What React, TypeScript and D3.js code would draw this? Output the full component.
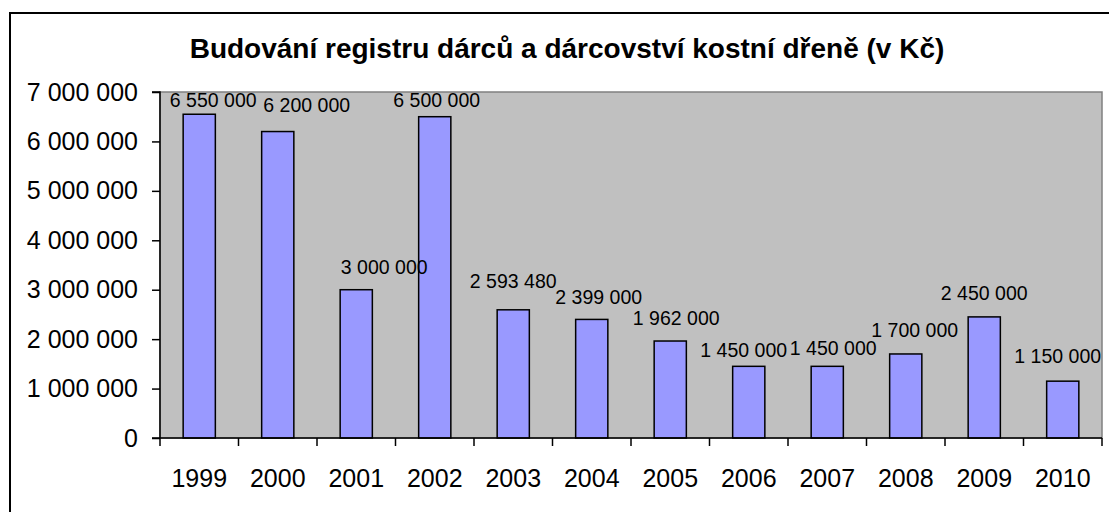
import React, { useEffect, useRef } from 'react';
import * as d3 from 'd3';

// chart data
const years = ['1999', '2000', '2001', '2002', '2003', '2004', '2005', '2006', '2007', '2008', '2009', '2010'];
const amounts = [6550000, 6200000, 3000000, 6500000, 2593480, 2399000, 1962000, 1450000, 1450000, 1700000, 2450000, 1150000];
const yTicks = [0, 1000000, 2000000, 3000000, 4000000, 5000000, 6000000, 7000000];
const title = 'Budování registru dárců a dárcovství kostní dřeně (v Kč)';

// small hand moves of the value labels, like they were dragged in the original
const labelNudge: [number, number][] = [
    [14, 0], [29, -2], [28, 1], [2, 0], [0, -5], [7, 2],
    [6, 1], [-5, 8], [6, 6], [9, 0], [0, 0], [-5, -1],
];

const fmt = (v: number) => d3.format(',')(v).replace(/,/g, ' ');

function App() {
    const ref = useRef<SVGSVGElement>(null);

    useEffect(() => {
        const width = 1109;
        const height = 512;
        const font = '"Liberation Sans", Arial, sans-serif';
        const plot = { left: 160, right: 1102, top: 92, bottom: 438 };

        const svg = d3.select(ref.current);
        svg.selectAll('*').remove();

        svg.append('rect')
            .attr('width', width)
            .attr('height', height)
            .attr('fill', '#fff');

        // outer chart border (only top and left visible, rest is cut off)
        svg.append('path')
            .attr('d', `M10,${height + 2} L10,13 L${width + 2},13`)
            .attr('fill', 'none')
            .attr('stroke', '#000')
            .attr('stroke-width', 2);

        const x = d3.scaleBand()
            .domain(years)
            .range([plot.left, plot.right])
            .paddingInner(0.59)
            .paddingOuter(0.295);

        const y = d3.scaleLinear()
            .domain([0, 7000000])
            .range([plot.bottom, plot.top]);

        // plot area
        svg.append('rect')
            .attr('x', plot.left)
            .attr('y', plot.top)
            .attr('width', plot.right - plot.left)
            .attr('height', plot.bottom - plot.top)
            .attr('fill', '#c0c0c0')
            .attr('stroke', '#808080')
            .attr('stroke-width', 1.5);

        // bars
        svg.append('g')
            .selectAll('rect')
            .data(amounts)
            .enter()
            .append('rect')
            .attr('x', (_, i) => x(years[i])!)
            .attr('y', d => y(d))
            .attr('width', x.bandwidth())
            .attr('height', d => y(0) - y(d))
            .attr('fill', '#9999ff')
            .attr('stroke', '#000')
            .attr('stroke-width', 1.5);

        // y axis
        const yAxis = svg.append('g')
            .attr('transform', `translate(${plot.left},0)`)
            .call(d3.axisLeft(y).tickValues(yTicks).tickFormat(d => fmt(+d)).tickSize(8).tickPadding(14));
        yAxis.select('.domain').attr('stroke', '#000').attr('stroke-width', 1.5).attr('d', `M-8,${plot.top}H0V${plot.bottom}`);
        yAxis.selectAll('line').attr('stroke', '#000').attr('stroke-width', 1.5);
        yAxis.selectAll('text')
            .attr('font-family', font)
            .attr('font-size', 25)
            .attr('fill', '#000');

        // x axis line with ticks between categories
        const xAxis = svg.append('g');
        xAxis.append('line')
            .attr('x1', plot.left - 8)
            .attr('x2', plot.right)
            .attr('y1', plot.bottom)
            .attr('y2', plot.bottom)
            .attr('stroke', '#000')
            .attr('stroke-width', 1.5);
        const step = x.step();
        const edges = d3.range(years.length + 1).map(i => plot.left + i * step);
        xAxis.selectAll('.tk')
            .data(edges)
            .enter()
            .append('line')
            .attr('x1', d => d)
            .attr('x2', d => d)
            .attr('y1', plot.bottom)
            .attr('y2', plot.bottom + 8)
            .attr('stroke', '#000')
            .attr('stroke-width', 1.5);
        xAxis.selectAll('text')
            .data(years)
            .enter()
            .append('text')
            .attr('x', d => x(d)! + x.bandwidth() / 2)
            .attr('y', 487)
            .attr('text-anchor', 'middle')
            .attr('font-family', font)
            .attr('font-size', 25)
            .text(d => d);

        // value labels
        svg.append('g')
            .selectAll('text')
            .data(amounts)
            .enter()
            .append('text')
            .attr('x', (_, i) => x(years[i])! + x.bandwidth() / 2 + labelNudge[i][0])
            .attr('y', (d, i) => Math.max(y(d) - 24, 100) + labelNudge[i][1])
            .attr('dy', '0.35em')
            .attr('text-anchor', 'middle')
            .attr('font-family', font)
            .attr('font-size', 19.5)
            .text(d => fmt(d));

        // title
        svg.append('text')
            .attr('x', 567)
            .attr('y', 58)
            .attr('text-anchor', 'middle')
            .attr('font-family', font)
            .attr('font-weight', 'bold')
            .attr('font-size', 28)
            .text(title);
    }, []);

    return (
        <svg
            ref={ref}
            width={1109}
            height={512}
            style={{ position: 'absolute', left: 0, top: 0 }}
        />
    );
}

export default App;
